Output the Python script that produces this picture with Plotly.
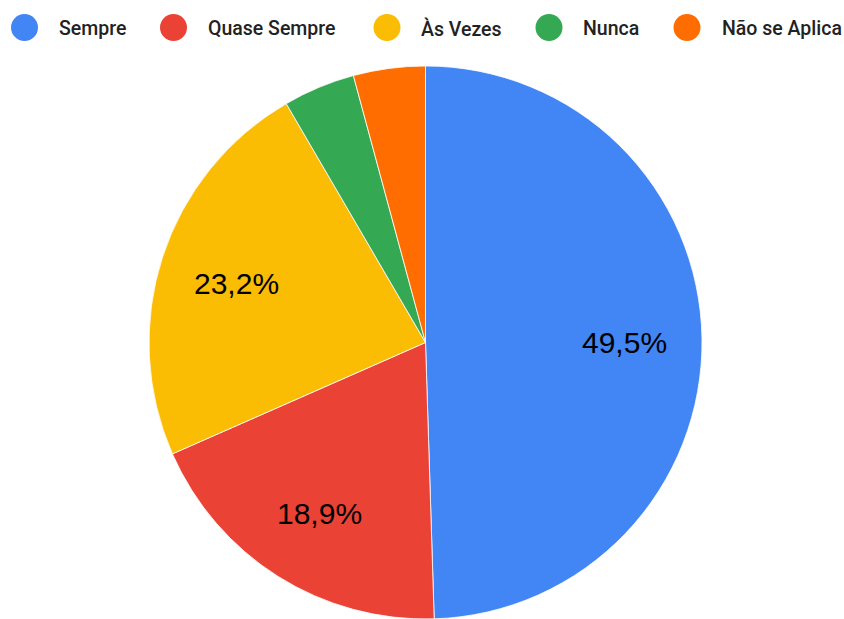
import math
import plotly.graph_objects as go

categories = ["Sempre", "Quase Sempre", "Às Vezes", "Nunca", "Não se Aplica"]
values = [49.5, 18.9, 23.2, 4.2, 4.2]
labels_text = ["49,5%", "18,9%", "23,2%", "", ""]
colors = ["#4285F4", "#EA4335", "#FBBC04", "#34A853", "#FF6D01"]

W, H = 844, 619
# pie geometry (pixels)
PX0, PX1, PY_TOP, PY_BOT = 149, 702, 66, 619
cx = (PX0 + PX1) / 2
radius = (PY_BOT - PY_TOP) / 2
cy = PY_TOP + radius

fig = go.Figure()
fig.add_trace(go.Pie(
    labels=categories,
    values=values,
    textinfo="none",
    marker=dict(colors=colors, line=dict(color="#ffffff", width=0.8)),
    sort=False,
    direction="clockwise",
    rotation=0,
    domain=dict(x=[PX0 / W, PX1 / W], y=[0, (PY_BOT - PY_TOP) / H]),
    showlegend=False,
    hoverinfo="label+percent",
))

annotations = []
# slice labels placed along each slice's mid-angle
total = sum(values)
cum = 0.0
for v, t in zip(values, labels_text):
    mid = (cum + v / 2) / total * 2 * math.pi
    cum += v
    if not t:
        continue
    d = 0.72 * radius
    x = cx + d * math.sin(mid)
    y = cy - d * math.cos(mid) + 3
    annotations.append(dict(text=t, xref="paper", yref="paper",
                            x=x / W, y=1 - y / H, xanchor="center", yanchor="middle",
                            showarrow=False,
                            font=dict(family="Liberation Sans, Arial", size=30, color="#000000")))

# Legend drawn manually (circle markers like the original)
legend_circle_x = [24.5, 173.5, 387, 549, 687]
legend_text_x = [57, 206, 419, 581, 720]
legend_y = 27.5
shapes = []
r = 13.5
for cat, col, lx, tx in zip(categories, colors, legend_circle_x, legend_text_x):
    shapes.append(dict(type="circle", xref="paper", yref="paper",
                       x0=(lx - r) / W, x1=(lx + r) / W,
                       y0=1 - (legend_y + r) / H, y1=1 - (legend_y - r) / H,
                       fillcolor=col, line=dict(width=0)))
    annotations.append(dict(text=cat, xref="paper", yref="paper",
                            x=tx / W, y=1 - (legend_y + 1) / H, xanchor="left", yanchor="middle",
                            showarrow=False,
                            font=dict(family="Roboto, Arial", size=19.5, color="#222222", weight=500)))

fig.update_layout(
    width=W, height=H,
    margin=dict(l=0, r=0, t=0, b=0),
    paper_bgcolor="#ffffff",
    plot_bgcolor="#ffffff",
    shapes=shapes,
    annotations=annotations,
)

fig.write_html("out.html", config={"displayModeBar": False},
               post_script="document.body.style.margin='0px';")
